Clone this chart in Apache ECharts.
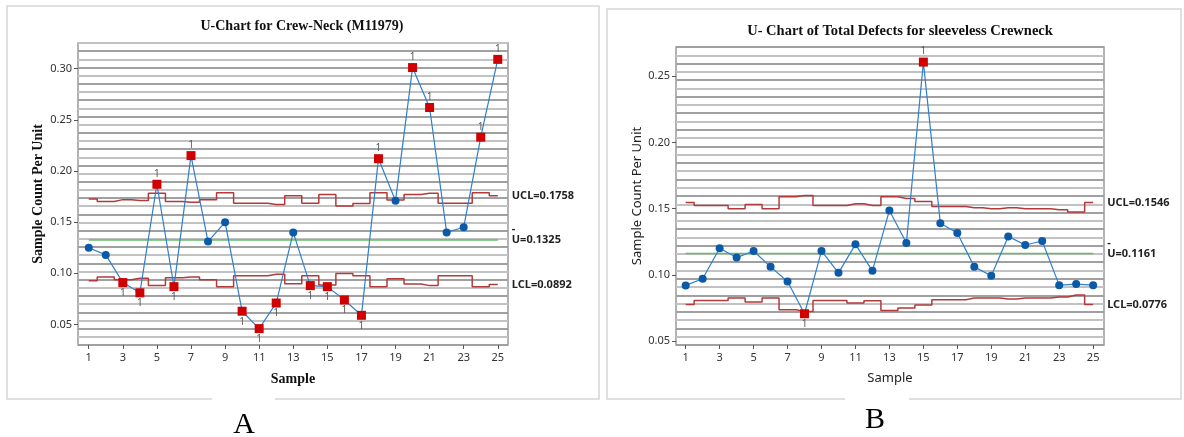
<!DOCTYPE html>
<html><head><meta charset="utf-8">
<script src="https://cdn.jsdelivr.net/npm/echarts@6/dist/echarts.min.js"></script>
<style>html,body{margin:0;padding:0;background:#fff}#c{width:1184px;height:437px}</style>
</head><body><div id="c"></div>
<script>
// ---------- data ----------
const samples = [1,2,3,4,5,6,7,8,9,10,11,12,13,14,15,16,17,18,19,20,21,22,23,24,25];
const xTicks = [1,3,5,7,9,11,13,15,17,19,21,23,25];

// Chart A : U-Chart for Crew-Neck (M11979)
const uA   = [0.125,0.118,0.091,0.081,0.187,0.087,0.215,0.131,0.150,0.063,0.046,0.071,0.140,0.088,0.087,0.074,0.059,0.212,0.171,0.301,0.262,0.140,0.145,0.233,0.309];
const uclA = [0.1727,0.1701,0.1720,0.1711,0.1782,0.1701,0.1695,0.1720,0.1788,0.1685,0.1685,0.1672,0.1759,0.1685,0.1769,0.1659,0.1681,0.1788,0.1717,0.1769,0.1782,0.1685,0.1685,0.1788,0.1758];
const lclA = [0.0928,0.0964,0.0938,0.0951,0.0880,0.0957,0.0964,0.0938,0.0870,0.0977,0.0977,0.0990,0.0899,0.0977,0.0886,0.0999,0.0977,0.0870,0.0948,0.0896,0.0880,0.0977,0.0977,0.0870,0.0892];
const ubarA = 0.1325;
const yTicksA = [0.05,0.10,0.15,0.20,0.25,0.30];

// Chart B : U- Chart of Total Defects for sleeveless Crewneck
const uB   = [0.092,0.097,0.120,0.113,0.118,0.106,0.095,0.0706,0.118,0.1015,0.123,0.103,0.1486,0.124,0.2606,0.139,0.1315,0.106,0.0993,0.129,0.1225,0.1255,0.0922,0.093,0.0922];
const uclB = [0.1546,0.1523,0.1523,0.1498,0.1531,0.1498,0.1589,0.1599,0.1523,0.1523,0.1536,0.1523,0.1589,0.1576,0.1554,0.1516,0.1516,0.1506,0.1498,0.1506,0.1498,0.1498,0.1491,0.1475,0.1546];
const lclB = [0.0776,0.0806,0.0806,0.0825,0.0794,0.0825,0.0736,0.0723,0.0806,0.0806,0.0787,0.0804,0.0731,0.0749,0.0772,0.0812,0.0812,0.0825,0.0825,0.0817,0.0825,0.0825,0.0832,0.0847,0.0776];
const ubarB = 0.1161;
const yTicksB = [0.05,0.10,0.15,0.20,0.25];

// ---------- styling ----------
const RED = '#d00000', BLUE_PT = '#0b5aa8', BLUE_LN = '#2f7fcc', LIMIT = '#b23a3a', CENTER = '#66bb6a';
const SANS = '"Noto Sans", "Open Sans", sans-serif';
const SERIF = '"Liberation Serif", "DejaVu Serif", serif';

function fmt4(v){ return v.toFixed(4); }

function pointsData(u, ucl, lcl){
  return samples.map((s,i)=>{
    const hi = u[i] > ucl[i], lo = u[i] < lcl[i], out = hi || lo;
    return {
      value:[s,u[i]],
      symbol: out ? 'rect' : 'circle',
      symbolSize: out ? 9 : 8,
      itemStyle:{color: out ? RED : BLUE_PT},
      label:{show: out, position: hi ? 'top' : 'bottom', distance: 1, formatter:'1', color:'#555', fontSize:10, fontFamily: SANS}
    };
  });
}

function limitSeries(idx, vals, name){
  return {
    type:'line', xAxisIndex: idx, yAxisIndex: idx*2, step:'middle', symbol:'none', silent:true,
    data: samples.map((s,i)=>[s, vals[i]]),
    lineStyle:{color: LIMIT, width:1.5}, z:3,
    endLabel:{show:true, distance:14, formatter: name + '=' + fmt4(vals[vals.length-1]),
      fontFamily: SANS, fontWeight:'bold', fontSize:11, color:'#222'}
  };
}

function centerSeries(idx, ubar){
  return {
    type:'line', xAxisIndex: idx, yAxisIndex: idx*2, symbol:'none', silent:true,
    data: [[samples[0], ubar],[samples[samples.length-1], ubar]],
    lineStyle:{color: CENTER, width:1.5}, z:3,
    endLabel:{show:true, distance:14, offset:[0,-5.5],
      formatter: '{d|-}\n{t|U=' + fmt4(ubar) + '}',
      rich:{ d:{fontFamily:SANS, fontWeight:'bold', fontSize:11, color:'#222', lineHeight:11},
             t:{fontFamily:SANS, fontWeight:'bold', fontSize:11, color:'#222', lineHeight:11} }}
  };
}

function pointSeries(idx, u, ucl, lcl){
  return {
    type:'line', xAxisIndex: idx, yAxisIndex: idx*2, showSymbol:true, silent:true,
    data: pointsData(u, ucl, lcl),
    lineStyle:{color: BLUE_LN, width:1.2}, z:5
  };
}

function xAxisCfg(idx, min, max, nameStyle){
  return {
    gridIndex: idx, type:'value', min:min, max:max,
    axisLine:{show:false},
    axisTick:{show:true, customValues:xTicks, length:4, lineStyle:{color:'#555'}},
    axisLabel:{customValues:xTicks, fontSize:11, color:'#333', fontFamily:SANS, margin:7},
    splitLine:{show:false},
    name:'Sample', nameLocation:'middle', nameGap:27, nameTextStyle: nameStyle
  };
}
function yAxisCfg(idx, min, max, ticks, nameStyle, gap){
  return {
    gridIndex: idx, type:'value', min:min, max:max,
    axisLine:{show:false},
    axisTick:{show:true, customValues:ticks, length:4, lineStyle:{color:'#555'}},
    axisLabel:{customValues:ticks, formatter:v=>v.toFixed(2), fontSize:11, color:'#333', fontFamily:SANS, margin:6},
    splitLine:{show:false},
    name:'Sample Count Per Unit', nameLocation:'middle', nameGap:gap, nameRotate:90, nameTextStyle:nameStyle
  };
}
function stripeAxis(idx, n){
  return {
    gridIndex: idx, type:'value', min:0, max:n, interval:1, position:'right',
    axisLine:{show:false}, axisTick:{show:false}, axisLabel:{show:false},
    splitLine:{show:true, lineStyle:{color:['#a0a0a0','#c2c2c2'], width:2}}
  };
}

const titleA = {fontFamily:SERIF, fontWeight:'bold', fontSize:14, color:'#111'};
const titleB = {fontFamily:SANS, fontWeight:'normal', fontSize:13, color:'#222'};

const option = {
  animation:false,
  backgroundColor:'#fff',
  grid:[
    {left:78, top:43, width:430, height:302, show:true, borderColor:'#999', borderWidth:1.5, backgroundColor:'#fff'},
    {left:676, top:47, width:428, height:298, show:true, borderColor:'#999', borderWidth:1.5, backgroundColor:'#fff'}
  ],
  xAxis:[ xAxisCfg(0, 0.37, 25.6, titleA), xAxisCfg(1, 0.43, 25.64, titleB) ],
  yAxis:[
    yAxisCfg(0, 0.03, 0.325, yTicksA, titleA, 33), stripeAxis(0, 37),
    yAxisCfg(1, 0.047, 0.272, yTicksB, titleB, 32), stripeAxis(1, 36)
  ],
  series:[
    limitSeries(0, uclA, 'UCL'), limitSeries(0, lclA, 'LCL'), centerSeries(0, ubarA), pointSeries(0, uA, uclA, lclA),
    limitSeries(1, uclB, 'UCL'), limitSeries(1, lclB, 'LCL'), centerSeries(1, ubarB), pointSeries(1, uB, uclB, lclB)
  ],
  graphic:[
    {type:'polyline', shape:{points:[[212,399],[7,399],[7,6],[599,6],[599,399],[275,399]]}, style:{stroke:'#d6d6d6', lineWidth:1.5, fill:null}},
    {type:'polyline', shape:{points:[[845,399],[607,399],[607,9],[1181,9],[1181,399],[909,399]]}, style:{stroke:'#d6d6d6', lineWidth:1.5, fill:null}},
    {type:'text', x:302, y:26, style:{text:'U-Chart for Crew-Neck (M11979)', font:'bold 14px "Liberation Serif"', fill:'#111', align:'center', verticalAlign:'middle'}},
    {type:'text', x:900, y:31, style:{text:'U- Chart of Total Defects for sleeveless Crewneck', font:'bold 14.5px "Liberation Serif"', fill:'#111', align:'center', verticalAlign:'middle'}},
    {type:'text', x:244, y:425, style:{text:'A', font:'30px "Liberation Serif"', fill:'#000', align:'center', verticalAlign:'middle'}},
    {type:'text', x:875, y:420, style:{text:'B', font:'30px "Liberation Serif"', fill:'#000', align:'center', verticalAlign:'middle'}}
  ]
};
const chart = echarts.init(document.getElementById('c'), null, {renderer:'canvas'});
chart.setOption(option);
</script></body></html>
